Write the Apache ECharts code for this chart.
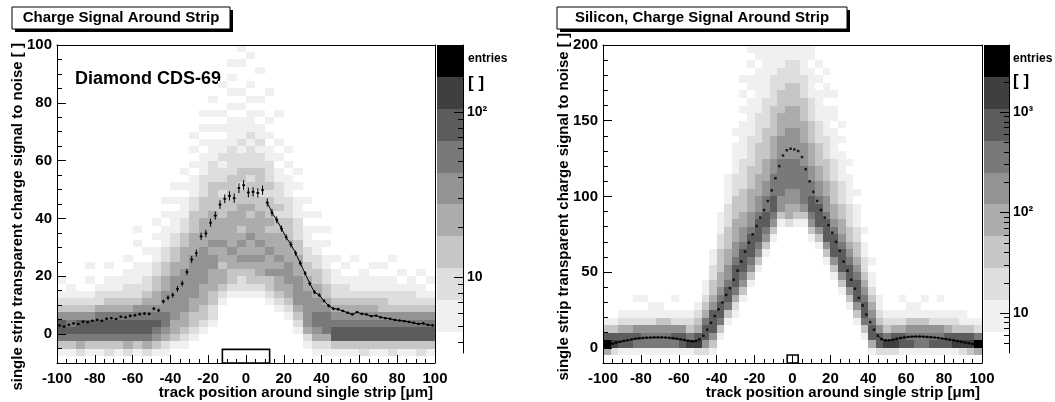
<!DOCTYPE html>
<html><head><meta charset="utf-8">
<script src="https://cdn.jsdelivr.net/npm/echarts@6/dist/echarts.min.js"></script>
<style>html,body{margin:0;padding:0;background:#fff}#c{width:1055px;height:402px}</style>
</head><body><div id="c"></div>
<script>
// ---------------- data ----------------
const xTicks = [-100,-80,-60,-40,-20,0,20,40,60,80,100];
const xMinorTicks = [-95,-90,-85,-75,-70,-65,-55,-50,-45,-35,-30,-25,-15,-10,-5,5,10,15,25,30,35,45,50,55,65,70,75,85,90,95];
const diamondYTicks = [0,20,40,60,80,100];
const diamondYMinorTicks = [-5,5,10,15,25,30,35,45,50,55,65,70,75,85,90,95];
const siliconYTicks = [0,50,100,150,200];
const siliconYMinorTicks = [10,20,30,40,60,70,80,90,110,120,130,140,160,170,180,190];

// colour-bar (entries, log scale)
const diamondZMajor = [10,100];
const diamondZMinor = [4,5,6,7,8,9,20,30,40,50,60,70,80,90,200];
const diamondZRange = {axisMin:3.46, axisMax:255, barMin:4.64};
const siliconZMajor = [10,100,1000];
const siliconZMinor = [5,6,7,8,9,20,30,40,50,60,70,80,90,200,300,400,500,600,700,800,900,2000,3000,4000];
const siliconZRange = {axisMin:4.0, axisMax:4645, barMin:6.47};
const paletteLevels = 9;

// 2D histogram binning and cell levels (one string per x bin, lowest y bin first, digit = palette level, 0 = empty)
const diamondBins = {x0:-100, dx:5, y0:-10, dy:2.5};
const diamondColumns = [
"013677532101","01367653211","0246775321","01367753210101","01367764221",
"02367764321101","013677643211","024677643221101","0136776532211100101","02467765432211010",
"01356765443322110101","01245665554433221110101","0013445555554433221110101","001234455555544433221110101","00012334455555544433322111010101",
"00001233444555554444333222111010101","0000012233444554544443333222111010101","000000001234434454443332322121101010001","000000000123344544444333332222111101010101","00000000012234545434443323322121110101000101",
"0000000001233454454434333232221211101010001","00000000012344545444433233322121101010001","00000000123354454434333232221101010001","00000001234454544433232221101010001","000000123445554443332221110101",
"000012345555444332221110101","00124555554433221110101","012456655443322110101","0124666543322110101","013776543221101",
"01377654322101","013776543211001","0237765432111","01377654321101","01377653321101",
"023776532211001","0137765322101","013776532211","0237765321101","013776532101"
];
const siliconBins = {x0:-100, dx:4, y0:-10, dy:5};
const siliconColumns = [
"049731","028731","0177421","0177421","016752101",
"016652101","01665211","01665311","0166531","016752101",
"0177521","0186321","02874321","02577643211","013577754332211",
"00013677654433322111","0000013677655443332221111","0000001246777655444333222111101","00000000135677765544333222211111010101","000000000013567776554443332222111110110101",
"000000000000135677765544433332222111111011","000000000000001356776655444333322221111111","000000000000000013567766655444333322221111","000000000000000000135566666555444333222111","000000000000000000244556666555544433322211",
"000000000000000000134556666555544433322211","000000000000000000135666665554443332221111","000000000000000013567766554443332221111011","0000000000000001357776554433322211110101","000000000000013577765544333222111101101",
"000000000001357776544333222111101101","00000000013577765443322211110101","000000013577765433222111101","00000135777654332211101","000136776543221101",
"01477654321101","027753211","0286321","0287421","017742101",
"01765311","01665311","016653101","0176521","017652101",
"0177421","0187321","0287311","038731","049621"
];

// profiles (mean signal per x bin)
const diamondProfileBins = {x0:-100, dx:2.5};
const diamondProfile = [
3.0,2.6,3.2,3.7,3.5,4.3,4.1,4.6,4.9,4.6,
5.3,5.5,5.2,6.0,5.8,6.3,6.5,6.9,7.1,7.0,
8.8,8.2,11.3,12.6,13.5,15.6,17.5,21.5,25.8,28.0,
33.8,34.8,38.5,41.0,44.8,46.8,47.8,47.0,50.5,51.5,
49.0,49.2,48.8,49.8,45.5,42.0,39.5,36.5,33.5,31.0,
28.0,24.5,21.0,17.5,14.5,13.5,11.5,9.8,8.8,8.6,
8.0,7.4,6.8,7.6,7.0,6.8,6.2,6.4,5.8,5.5,
5.3,4.9,4.7,4.5,4.2,3.9,3.5,3.7,3.2,3.0];
const diamondProfileErr = [
0.4,0.4,0.4,0.4,0.4,0.4,0.4,0.4,0.4,0.4,
0.4,0.4,0.4,0.4,0.4,0.5,0.5,0.5,0.5,0.5,
0.6,0.6,0.7,0.8,0.9,1.0,1.0,1.1,1.2,1.2,
1.3,1.3,1.4,1.4,1.5,1.5,1.6,1.6,1.7,1.7,
1.7,1.6,1.6,1.6,1.4,1.3,1.2,1.1,1.0,1.0,
0.9,0.9,0.8,0.8,0.7,0.7,0.6,0.6,0.5,0.5,
0.4,0.4,0.4,0.4,0.4,0.4,0.4,0.4,0.4,0.4,
0.4,0.4,0.4,0.4,0.4,0.4,0.4,0.4,0.4,0.4];
const diamondLineFrom = 44;

const siliconProfileBins = {x0:-100, dx:2};
const siliconProfile = [
2.0,2.3,2.8,3.5,4.0,4.6,5.0,5.5,6.0,6.3,
6.5,6.7,6.8,6.9,6.9,6.9,6.8,6.6,6.4,6.0,
5.6,5.2,4.7,4.4,4.6,5.8,8.0,12.0,16.5,21.0,
25.5,30.0,35.0,39.5,45.0,51.0,57.0,63.5,69.5,75.0,
80.5,86.0,91.0,97.0,104.0,112.0,120.0,127.0,130.5,131.5,
131.0,130.0,126.0,118.0,110.0,103.0,97.0,91.0,86.0,81.0,
76.0,70.0,64.0,57.0,51.0,45.0,39.0,33.0,28.0,22.0,
17.0,12.0,8.0,5.8,5.0,5.0,5.4,6.0,6.5,6.9,
7.2,7.4,7.5,7.5,7.4,7.2,7.0,6.8,6.5,6.1,
5.8,5.4,5.0,4.5,4.0,3.5,3.0,2.5,1.8,1.3];
const siliconLineTo = 25, siliconLineFrom = 72;

// strip (readout) boxes: [x0, x1, y0, y1]
const diamondStrip = [-12.5, 12.5, -10, -5.3];
const siliconStrip = [-2.8, 3.0, -10, -4.7];

// ---------------- rendering ----------------
const LEVEL_COLORS = ['#f0f0f0','#dedede','#c6c6c6','#acacac','#939393','#797979','#5c5c5c','#3f3f3f','#000000'];
const FONT = '"Liberation Sans", Arial, sans-serif';
const lg = v => Math.log10(v);

function cellsFrom(columns, bins){
  const out = [];
  columns.forEach((col, c) => {
    for (let r = 0; r < col.length; r++) {
      const lv = +col[r];
      if (lv > 0) out.push([bins.x0 + c*bins.dx, bins.x0 + (c+1)*bins.dx, bins.y0 + r*bins.dy, bins.y0 + (r+1)*bins.dy, lv]);
    }
  });
  return out;
}
function paletteCells(range){
  const lo = lg(range.barMin), hi = lg(range.axisMax), step = (hi - lo)/paletteLevels, out = [];
  for (let k = 0; k < paletteLevels; k++) out.push([0, 1, lo + k*step, lo + (k+1)*step, k+1]);
  return out;
}
function renderCell(params, api){
  const a = api.coord([api.value(0), api.value(3)]);
  const b = api.coord([api.value(1), api.value(2)]);
  const x0 = Math.round(a[0]), y0 = Math.round(a[1]), x1 = Math.round(b[0]), y1 = Math.round(b[1]);
  return {type:'rect', shape:{x:x0, y:y0, width:x1-x0, height:y1-y0}, style:{fill:LEVEL_COLORS[api.value(4)-1]}};
}
function renderStrip(params, api){
  const a = api.coord([api.value(0), api.value(3)]);
  const b = api.coord([api.value(1), api.value(2)]);
  return {type:'rect', shape:{x:a[0], y:a[1], width:b[0]-a[0], height:b[1]-a[1]}, style:{fill:'none', stroke:'#000', lineWidth:1.6}};
}
function renderProfile(params, api){
  const x = api.value(0), y = api.value(1), e = api.value(2);
  const p = api.coord([x, y]), t = api.coord([x, y+e]), b = api.coord([x, y-e]);
  const l = api.coord([x-0.8, y]), r = api.coord([x+0.8, y]);
  return {type:'group', children:[
    {type:'line', shape:{x1:p[0], y1:t[1], x2:p[0], y2:b[1]}, style:{stroke:'#000', lineWidth:1}},
    {type:'line', shape:{x1:l[0], y1:p[1], x2:r[0], y2:p[1]}, style:{stroke:'#000', lineWidth:1}},
    {type:'rect', shape:{x:p[0]-1, y:p[1]-1, width:2, height:2}, style:{fill:'#000'}}
  ]};
}
const centers = (bins, n) => Array.from({length:n}, (_, i) => bins.x0 + bins.dx*(i+0.5));
const dX = centers(diamondProfileBins, diamondProfile.length);
const sX = centers(siliconProfileBins, siliconProfile.length);

const labelFont = {fontFamily:FONT, fontWeight:'bold', fontSize:15, color:'#000'};
const black = {color:'#000', width:1};
function axisMain(dim, g, min, max, ticks, pos, len, margin){
  return {type:'value', gridIndex:g, min, max, position:pos, z:10,
    axisLine:{show:true, onZero:false, lineStyle:black},
    axisTick:{show:true, inside:true, length:len, customValues:ticks, lineStyle:black},
    axisLabel:Object.assign({show:true, customValues:ticks, margin}, labelFont),
    splitLine:{show:false}};
}
function axisMinor(g, min, max, ticks, pos, len){
  return {type:'value', gridIndex:g, min, max, position:pos, z:10,
    axisLine:{show:false, onZero:false},
    axisTick:{show:true, inside:true, length:len, customValues:ticks, lineStyle:black},
    axisLabel:{show:false}, splitLine:{show:false}};
}
function axisFrame(g, min, max, pos){
  return {type:'value', gridIndex:g, min, max, position:pos, z:10,
    axisLine:{show:true, onZero:false, lineStyle:black},
    axisTick:{show:false}, axisLabel:{show:false}, splitLine:{show:false}};
}
const supers = {1:'10', 2:'10\u00b2', 3:'10\u00b3'};
function zAxisMain(g, range, major){
  const vals = major.map(lg);
  return {type:'value', gridIndex:g, min:lg(range.axisMin), max:lg(range.axisMax), position:'right', z:10,
    axisLine:{show:true, onZero:false, lineStyle:black},
    axisTick:{show:true, inside:true, length:9, customValues:vals, lineStyle:black},
    axisLabel:{show:true, customValues:vals, margin:4, fontFamily:FONT, fontWeight:'bold', fontSize:14, color:'#000',
      formatter: v => supers[Math.round(v)]},
    splitLine:{show:false}};
}
function zAxisMinor(g, range, minor){
  return axisMinor(g, lg(range.axisMin), lg(range.axisMax), minor.map(lg), 'right', 5);
}
const hidden = g => ({type:'value', gridIndex:g, min:0, max:1, show:false});

const option = {
  animation:false,
  backgroundColor:'#fff',
  grid:[
    {left:57, top:45, width:378, height:318},
    {left:437, top:45, width:26, height:308},
    {left:603, top:45, width:379, height:318},
    {left:984, top:45, width:25, height:308}
  ],
  xAxis:[
    axisMain('x', 0, -100, 100, xTicks, 'bottom', 8, 8),
    axisMinor(0, -100, 100, xMinorTicks, 'bottom', 4),
    axisFrame(0, -100, 100, 'top'),
    hidden(1),
    axisMain('x', 2, -100, 100, xTicks, 'bottom', 8, 8),
    axisMinor(2, -100, 100, xMinorTicks, 'bottom', 4),
    axisFrame(2, -100, 100, 'top'),
    hidden(3)
  ],
  yAxis:[
    axisMain('y', 0, -10, 100, diamondYTicks, 'left', 9, 5),
    axisMinor(0, -10, 100, diamondYMinorTicks, 'left', 5),
    axisFrame(0, -10, 100, 'right'),
    zAxisMain(1, diamondZRange, diamondZMajor),
    zAxisMinor(1, diamondZRange, diamondZMinor),
    axisMain('y', 2, -10, 200, siliconYTicks, 'left', 9, 5),
    axisMinor(2, -10, 200, siliconYMinorTicks, 'left', 5),
    axisFrame(2, -10, 200, 'right'),
    zAxisMain(3, siliconZRange, siliconZMajor),
    zAxisMinor(3, siliconZRange, siliconZMinor)
  ],
  series:[
    {type:'custom', xAxisIndex:0, yAxisIndex:0, renderItem:renderCell, data:cellsFrom(diamondColumns, diamondBins),
      encode:{x:[0,1], y:[2,3]}, clip:true, z:2, progressive:0, silent:true},
    {type:'custom', xAxisIndex:0, yAxisIndex:0, renderItem:renderStrip, data:[diamondStrip], encode:{x:[0,1], y:[2,3]}, z:3, silent:true},
    {type:'line', xAxisIndex:0, yAxisIndex:0, symbol:'none', z:4, silent:true,
      lineStyle:{color:'#000', width:1},
      data:dX.map((x, i) => [x, diamondProfile[i]]).filter((_, i) => i >= diamondLineFrom)},
    {type:'custom', xAxisIndex:0, yAxisIndex:0, renderItem:renderProfile, z:5, silent:true,
      data:dX.map((x, i) => [x, diamondProfile[i], diamondProfileErr[i]]), encode:{x:0, y:1}},
    {type:'custom', xAxisIndex:3, yAxisIndex:3, renderItem:renderCell, data:paletteCells(diamondZRange), encode:{x:[0,1], y:[2,3]}, z:2, silent:true},

    {type:'custom', xAxisIndex:4, yAxisIndex:5, renderItem:renderCell, data:cellsFrom(siliconColumns, siliconBins),
      encode:{x:[0,1], y:[2,3]}, clip:true, z:2, progressive:0, silent:true},
    {type:'custom', xAxisIndex:4, yAxisIndex:5, renderItem:renderStrip, data:[siliconStrip], encode:{x:[0,1], y:[2,3]}, z:3, silent:true},
    {type:'line', xAxisIndex:4, yAxisIndex:5, symbol:'none', z:4, silent:true, smooth:0.3,
      lineStyle:{color:'#000', width:1},
      data:sX.map((x, i) => [x, siliconProfile[i]]).filter((_, i) => i <= siliconLineTo)},
    {type:'line', xAxisIndex:4, yAxisIndex:5, symbol:'none', z:4, silent:true, smooth:0.3,
      lineStyle:{color:'#000', width:1},
      data:sX.map((x, i) => [x, siliconProfile[i]]).filter((_, i) => i >= siliconLineFrom)},
    {type:'scatter', xAxisIndex:4, yAxisIndex:5, symbol:'rect', symbolSize:2.5, z:5, silent:true,
      itemStyle:{color:'#000'}, data:sX.map((x, i) => [x, siliconProfile[i]])},
    {type:'custom', xAxisIndex:7, yAxisIndex:8, renderItem:renderCell, data:paletteCells(siliconZRange), encode:{x:[0,1], y:[2,3]}, z:2, silent:true}
  ],
  graphic:[
    {type:'rect', shape:{x:15, y:10, width:218, height:22}, style:{fill:'#000'}},
    {type:'rect', shape:{x:12, y:7, width:218, height:22}, style:{fill:'#fff', stroke:'#000', lineWidth:1}},
    {type:'text', x:121, y:18, style:{text:'Charge Signal Around Strip', font:'bold 15px ' + FONT, fill:'#000', align:'center', verticalAlign:'middle'}},
    {type:'rect', shape:{x:560, y:10, width:290, height:22}, style:{fill:'#000'}},
    {type:'rect', shape:{x:557, y:7, width:290, height:22}, style:{fill:'#fff', stroke:'#000', lineWidth:1}},
    {type:'text', x:702, y:18, style:{text:'Silicon, Charge Signal Around Strip', font:'bold 15px ' + FONT, fill:'#000', align:'center', verticalAlign:'middle'}},
    {type:'text', x:75, y:79, style:{text:'Diamond CDS-69', font:'bold 18px ' + FONT, fill:'#000', align:'left', verticalAlign:'middle'}},
    {type:'text', x:18, y:43, rotation:Math.PI/2, style:{text:'single strip transparent charge signal to noise [ ]', font:'bold 15px ' + FONT, fill:'#000', align:'right', verticalAlign:'middle'}},
    {type:'text', x:564, y:33, rotation:Math.PI/2, style:{text:'single strip transparent charge signal to noise [ ]', font:'bold 15px ' + FONT, fill:'#000', align:'right', verticalAlign:'middle'}},
    {type:'text', x:433, y:393, style:{text:'track position around single strip [\u03bcm]', font:'bold 15px ' + FONT, fill:'#000', align:'right', verticalAlign:'middle'}},
    {type:'text', x:980, y:393, style:{text:'track position around single strip [\u03bcm]', font:'bold 15px ' + FONT, fill:'#000', align:'right', verticalAlign:'middle'}},
    {type:'text', x:468, y:59, style:{text:'entries', font:'bold 12px ' + FONT, fill:'#000', align:'left', verticalAlign:'middle'}},
    {type:'text', x:468, y:83, style:{text:'[ ]', font:'bold 17px ' + FONT, fill:'#000', align:'left', verticalAlign:'middle'}},
    {type:'text', x:1013, y:59, style:{text:'entries', font:'bold 12px ' + FONT, fill:'#000', align:'left', verticalAlign:'middle'}},
    {type:'text', x:1013, y:81, style:{text:'[ ]', font:'bold 17px ' + FONT, fill:'#000', align:'left', verticalAlign:'middle'}}
  ]
};
const chart = echarts.init(document.getElementById('c'), null, {renderer:'canvas'});
chart.setOption(option);
</script>
</body></html>
